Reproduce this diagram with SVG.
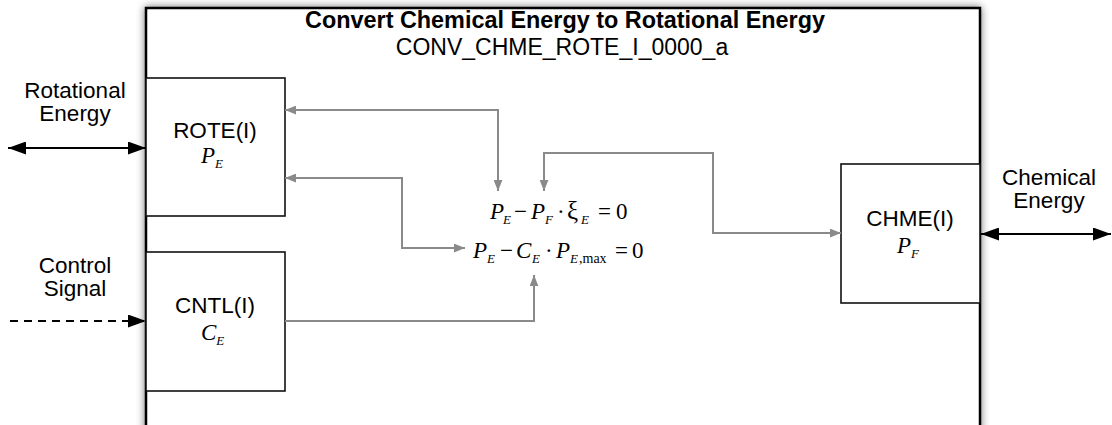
<svg xmlns="http://www.w3.org/2000/svg" width="1112" height="425" viewBox="0 0 1112 425">
<style>
.lbl{font-family:"Liberation Sans",Arial,sans-serif;font-size:22.5px;fill:#000;text-anchor:middle}
.ttl{font-family:"Liberation Sans",Arial,sans-serif;font-size:23.4px;font-weight:bold;fill:#000;text-anchor:middle}
.sub{font-family:"Liberation Sans",Arial,sans-serif;font-size:23px;fill:#000;text-anchor:middle}
.m{font-family:"Liberation Serif","Times New Roman",serif;font-size:23px;fill:#000}
.mi{font-family:"Liberation Serif","Times New Roman",serif;font-size:23px;font-style:italic;fill:#000}
.ms{font-family:"Liberation Serif","Times New Roman",serif;font-size:13px;font-style:italic;fill:#000}
.msr{font-family:"Liberation Serif","Times New Roman",serif;font-size:14px;fill:#000}
.box{fill:#fff;stroke:#111;stroke-width:1.6}
.g{fill:none;stroke:#8a8a8a;stroke-width:2}
.k{fill:none;stroke:#000;stroke-width:2}
</style>
<defs>
<filter id="sh" x="-5%" y="-5%" width="110%" height="110%">
<feGaussianBlur in="SourceAlpha" stdDeviation="4"/>
<feComponentTransfer><feFuncA type="linear" slope="0.55"/></feComponentTransfer>
<feMerge><feMergeNode/><feMergeNode in="SourceGraphic"/></feMerge>
</filter>
<marker id="ga" viewBox="0 0 10 8" refX="10" refY="4" markerWidth="11" markerHeight="9" orient="auto-start-reverse" markerUnits="userSpaceOnUse"><path d="M0,0 L10,4 L0,8 z" fill="#8a8a8a"/></marker>
<marker id="ba" viewBox="0 0 18 13" refX="18" refY="6.5" markerWidth="18" markerHeight="13" orient="auto-start-reverse" markerUnits="userSpaceOnUse"><path d="M0,0 L18,6.5 L0,13 z" fill="#000"/></marker>
</defs>

<g id="frame">
<rect x="146" y="8" width="834" height="440" fill="#fff" stroke="#000" stroke-width="2.5" filter="url(#sh)"/>
<text class="ttl" x="565" y="28">Convert Chemical Energy to Rotational Energy</text>
<text class="sub" x="562" y="55">CONV_CHME_ROTE_I_0000_a</text>
</g>

<g id="rote">
<rect class="box" x="146" y="78" width="139" height="138"/>
<text class="lbl" x="215" y="138">ROTE(I)</text>
<text x="201" y="163"><tspan class="mi">P</tspan><tspan class="ms" dy="5">E</tspan></text>
</g>

<g id="cntl">
<rect class="box" x="146" y="252" width="139" height="139"/>
<text class="lbl" x="215" y="313">CNTL(I)</text>
<text x="201" y="340"><tspan class="mi">C</tspan><tspan class="ms" dy="5">E</tspan></text>
</g>

<g id="chme">
<rect class="box" x="841" y="164" width="139" height="139"/>
<text class="lbl" x="910" y="226">CHME(I)</text>
<text x="897" y="253"><tspan class="mi">P</tspan><tspan class="ms" dy="5">F</tspan></text>
</g>

<g id="equations">
<text class="mi" x="490" y="219">P</text><text class="ms" x="503" y="224">E</text>
<text class="m" x="514" y="219">−</text>
<text class="mi" x="531" y="219">P</text><text class="ms" x="545" y="224">F</text>
<text class="m" x="557" y="219">·</text>
<text class="m" x="567" y="219" style="font-size:25px">ξ</text><text class="ms" x="581" y="224">E</text>
<text class="m" x="598" y="219">=</text>
<text class="m" x="616" y="219">0</text>

<text class="mi" x="473" y="258">P</text><text class="ms" x="487" y="263">E</text>
<text class="m" x="500" y="258">−</text>
<text class="mi" x="516" y="258">C</text><text class="ms" x="532" y="263">E</text>
<text class="m" x="545" y="258">·</text>
<text class="mi" x="556" y="258">P</text><text class="ms" x="570" y="263">E</text><text class="msr" x="579" y="263">,max</text>
<text class="m" x="615" y="258">=</text>
<text class="m" x="632" y="258">0</text>
</g>

<g id="connectors">
<path class="g" d="M285,110 H498 V191" marker-start="url(#ga)" marker-end="url(#ga)"/>
<path class="g" d="M285,178 H402 V248 H465" marker-start="url(#ga)" marker-end="url(#ga)"/>
<path class="g" d="M841,233 H713 V153 H544 V191" marker-start="url(#ga)" marker-end="url(#ga)"/>
<path class="g" d="M285,321 H534 V275" marker-end="url(#ga)"/>
<path class="k" d="M8,148 H146" marker-start="url(#ba)" marker-end="url(#ba)"/>
<path class="k" d="M10,321 H146" stroke-dasharray="8,6" marker-end="url(#ba)"/>
<path class="k" d="M981,234 H1111" marker-start="url(#ba)" marker-end="url(#ba)"/>
</g>

<g id="labels">
<text class="lbl" x="75" y="98">Rotational</text>
<text class="lbl" x="75" y="121">Energy</text>
<text class="lbl" x="75" y="273">Control</text>
<text class="lbl" x="75" y="296">Signal</text>
<text class="lbl" x="1049" y="185">Chemical</text>
<text class="lbl" x="1049" y="208">Energy</text>
</g>
</svg>
